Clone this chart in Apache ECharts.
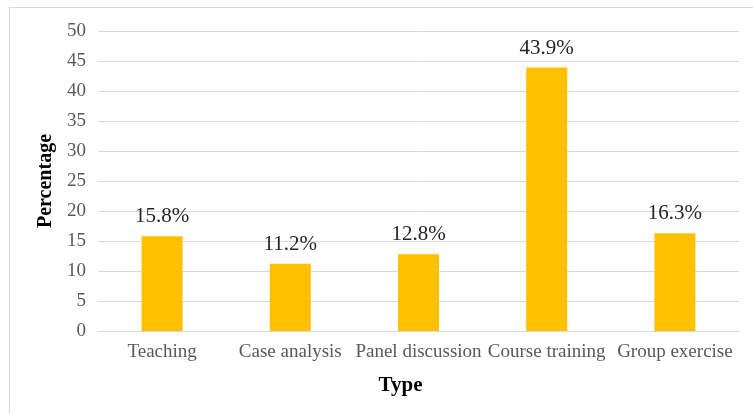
<!DOCTYPE html>
<html>
<head>
<meta charset="utf-8">
<script src="https://cdn.jsdelivr.net/npm/echarts@6/dist/echarts.min.js"></script>
<style>
  html,body{margin:0;padding:0;background:#fff;}
  #frame{position:absolute;left:9px;top:7px;width:744px;height:407px;box-sizing:border-box;border:1px solid #d9d9d9;border-right:none;border-bottom:none;}
  #main{position:absolute;left:0;top:0;width:753px;height:414px;}
</style>
</head>
<body>
<div id="frame"></div>
<div id="main"></div>
<script>
// 类别和数值
var types = ['Teaching', 'Case analysis', 'Panel discussion', 'Course training', 'Group exercise'];
var percents = [15.8, 11.2, 12.8, 43.9, 16.3];
var yTicks = [0, 5, 10, 15, 20, 25, 30, 35, 40, 45, 50];

var app = echarts.init(document.getElementById('main'));
var option = {
    animation: false,
    grid: {
        left: 98,
        right: 14,
        top: 31,
        bottom: 83
    },
    xAxis: {
        type: 'category',
        data: types,
        name: 'Type',
        nameLocation: 'middle',
        nameGap: 44,
        nameTextStyle: {
            fontFamily: 'Liberation Serif',
            fontWeight: 'bold',
            fontSize: 21,
            color: '#000',
            padding: [0, 36, 0, 0]
        },
        axisLine: { lineStyle: { color: '#d9d9d9', width: 1 } },
        axisTick: { show: false },
        axisLabel: {
            fontFamily: 'Liberation Serif',
            fontSize: 19,
            color: '#595959',
            margin: 12,
            interval: 0
        }
    },
    yAxis: {
        type: 'value',
        min: yTicks[0],
        max: yTicks[yTicks.length - 1],
        interval: 5,
        name: 'Percentage',
        nameLocation: 'middle',
        nameGap: 37,
        nameRotate: 90,
        nameTextStyle: {
            fontFamily: 'Liberation Serif',
            fontWeight: 'bold',
            fontSize: 20,
            color: '#000'
        },
        axisLine: { show: false },
        axisTick: { show: false },
        splitLine: { lineStyle: { color: '#d9d9d9', width: 1 } },
        axisLabel: {
            fontFamily: 'Liberation Serif',
            fontSize: 19,
            color: '#595959',
            margin: 12
        }
    },
    series: [{
        type: 'bar',
        data: percents,
        barWidth: 41,
        itemStyle: { color: '#ffc000' },
        label: {
            show: true,
            position: 'top',
            distance: 9,
            formatter: function (p) { return p.value.toFixed(1) + '%'; },
            fontFamily: 'Liberation Serif',
            fontSize: 21,
            color: '#262626'
        }
    }]
};
app.setOption(option);
</script>
</body>
</html>
